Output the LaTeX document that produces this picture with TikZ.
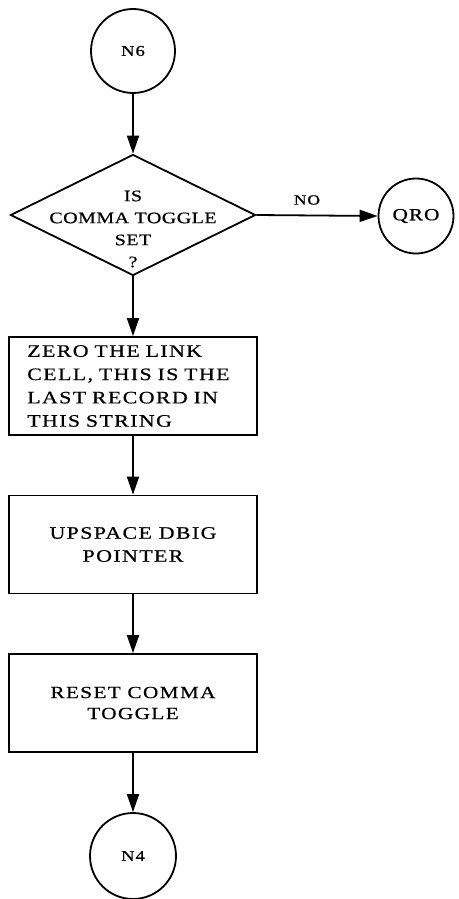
\documentclass[tikz,border=0pt]{standalone}
\usepackage{fontspec}
\setmainfont{Liberation Serif}[FakeStretch=1.25, LetterSpace=6, FakeBold=0.6]
\newfontfamily\dfont{Liberation Serif}[FakeStretch=1.25, LetterSpace=3, FakeBold=0.6]
\newfontfamily\bfontx{Liberation Serif}[FakeStretch=1.25, LetterSpace=8, FakeBold=0.6]
\usetikzlibrary{arrows.meta,shapes.geometric}
\begin{document}
\begin{tikzpicture}[x=1pt,y=1pt,
  every node/.style={inner sep=0pt},
  conn/.style={circle, draw, line width=1.8pt, font=\fontsize{15}{17}\selectfont},
  procbox/.style={rectangle, draw, line width=1.8pt, minimum width=248pt, minimum height=98pt},
  boxtext/.style={align=center, font=\bfontx\fontsize{17.5}{23}\selectfont},
  flow/.style={line width=1.8pt, -{Triangle[length=18pt,width=12pt]}}
]
\useasboundingbox (0,0) rectangle (458,-899);

\node[conn, minimum size=84pt] (n6) at (133,-51) {N6};
\node[diamond, draw, line width=1.8pt, minimum width=245pt, minimum height=121pt] (d) at (133,-215) {};
\node[align=center, font=\dfont\fontsize{16}{22}\selectfont] (dt) at (133,-229) {IS\\COMMA TOGGLE\\SET\\?};
\node[conn, minimum size=75pt, font=\fontsize{17}{19}\selectfont] (qro) at (416,-216) {QRO};
\node[font=\fontsize{14}{16}\selectfont] (no) at (307,-200) {NO};

\node[procbox] (b1) at (133,-386) {};
\node[boxtext, align=left, text width=226pt, anchor=west, font=\bfontx\fontsize{17.5}{23.3}\selectfont] (b1t) at ([xshift=19pt]b1.west) {ZERO THE LINK\\CELL, THIS IS THE\\LAST RECORD IN\\THIS STRING};
\node[procbox] (b2) at (133,-544.5) {};
\node[boxtext] (b2t) at (b2.center) {UPSPACE DBIG\\POINTER};
\node[procbox] (b3) at (133,-703) {};
\node[boxtext, font=\bfontx\fontsize{17}{21}\selectfont] (b3t) at (b3.center) {RESET COMMA\\TOGGLE};
\node[conn, minimum size=86pt] (n4) at (133,-856) {N4};

\draw[flow] (n6.south) -- (d.north);
\draw[flow] (d.east) -- (qro.west);
\draw[flow] (d.south) -- (b1.north);
\draw[flow] (b1.south) -- (b2.north);
\draw[flow] (b2.south) -- (b3.north);
\draw[flow] (b3.south) -- (n4.north);
\end{tikzpicture}
\end{document}
